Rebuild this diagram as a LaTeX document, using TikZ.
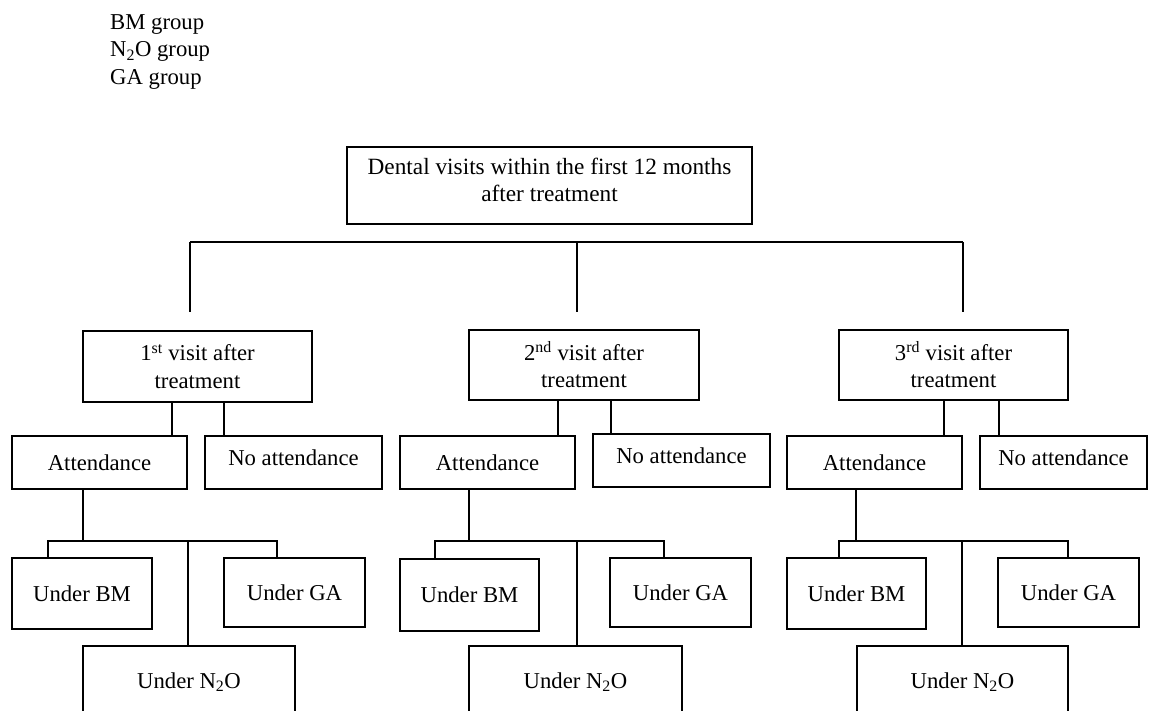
\documentclass[tikz,border=0pt]{standalone}
\usepackage{fontspec}
\setmainfont{Liberation Serif}
\begin{document}
\begin{tikzpicture}[x=1pt,y=-1pt,
  every node/.style={font=\fontsize{22.7}{27.5}\selectfont},
  box/.style={draw,line width=1.4pt,inner sep=0pt,align=center},
  onebox/.style={box,text height=15pt,text depth=0pt},
  upbox/.style={box,text height=15pt,text depth=10pt},
  conn/.style={line width=1.4pt},
  legend/.style={anchor=base west,inner sep=0pt}]
\useasboundingbox (0,0) rectangle (1149,711);
\clip (0,0) rectangle (1149,711);
% legend
\node[legend] (lbm) at (110,29.5) {BM group};
\node[legend] (ln2o) at (110,57) {N\textsubscript{2}O group};
\node[legend] (lga) at (110,84.5) {GA group};
% top
\node[box,minimum width=405pt,minimum height=77pt] (top) at (549.5,185.5) {};
\node[inner sep=0pt,align=center,font=\fontsize{23.3}{27.5}\selectfont] (toptext) at (549.5,180) {Dental visits within the first 12 months\\after treatment};
% visits
\node[box,minimum width=229pt,minimum height=71pt] (v1) at (197.5,366.5) {1\textsuperscript{st} visit after\\treatment};
\node[box,minimum width=230pt,minimum height=70pt] (v2) at (584,365) {2\textsuperscript{nd} visit after\\treatment};
\node[box,minimum width=229pt,minimum height=70pt] (v3) at (953.5,365) {3\textsuperscript{rd} visit after\\treatment};
% attendance
\node[onebox,minimum width=175pt,minimum height=53pt] (a1) at (99.5,462.5) {Attendance};
\node[upbox,minimum width=177pt,minimum height=53pt] (n1) at (293.5,462.5) {No attendance};
\node[onebox,minimum width=175pt,minimum height=53pt] (a2) at (487.5,462.5) {Attendance};
\node[upbox,minimum width=177pt,minimum height=53pt] (n2) at (681.5,460.5) {No attendance};
\node[onebox,minimum width=175pt,minimum height=53pt] (a3) at (874.5,462.5) {Attendance};
\node[upbox,minimum width=167pt,minimum height=53pt] (n3) at (1063.5,462.5) {No attendance};
% under
\node[onebox,minimum width=140pt,minimum height=71pt] (bm1) at (82,593.5) {Under BM};
\node[onebox,minimum width=141pt,minimum height=69pt] (ga1) at (294.5,592.5) {Under GA};
\node[onebox,minimum width=212pt,minimum height=70pt] (no1) at (189,681) {Under N\textsubscript{2}O};
\node[onebox,minimum width=139pt,minimum height=72pt] (bm2) at (469.5,595) {Under BM};
\node[onebox,minimum width=141pt,minimum height=69pt] (ga2) at (680.5,592.5) {Under GA};
\node[onebox,minimum width=213pt,minimum height=70pt] (no2) at (575.5,681) {Under N\textsubscript{2}O};
\node[onebox,minimum width=139pt,minimum height=71pt] (bm3) at (856.5,593.5) {Under BM};
\node[onebox,minimum width=141pt,minimum height=69pt] (ga3) at (1068.5,592.5) {Under GA};
\node[onebox,minimum width=211pt,minimum height=70pt] (no3) at (962.5,681) {Under N\textsubscript{2}O};
% top bar
\coordinate (tl) at (190,242);
\coordinate (tm) at (577,242);
\coordinate (tr) at (963,242);
\draw[conn] (tl) -- (tr);
\draw[conn] (tl) -- (tl |- 0,312);
\draw[conn] (tm) -- (tm |- 0,312);
\draw[conn] (tr) -- (tr |- 0,312);
% visit -> attendance
\draw[conn] (v1.south -| 172,0) -- (a1.north -| 172,0);
\draw[conn] (v1.south -| 224,0) -- (n1.north -| 224,0);
\draw[conn] (v2.south -| 558,0) -- (a2.north -| 558,0);
\draw[conn] (v2.south -| 611,0) -- (n2.north -| 611,0);
\draw[conn] (v3.south -| 944,0) -- (a3.north -| 944,0);
\draw[conn] (v3.south -| 999,0) -- (n3.north -| 999,0);
% attendance -> under
\draw[conn] (a1.south -| 83,0) -- (83,541);
\draw[conn] (bm1.north -| 48,0) -- (48,541) -- (277,541) -- (ga1.north -| 277,0);
\draw[conn] (188,541) -- (no1.north -| 188,0);
\draw[conn] (a2.south -| 469,0) -- (469,541);
\draw[conn] (bm2.north -| 435,0) -- (435,541) -- (664,541) -- (ga2.north -| 664,0);
\draw[conn] (577,541) -- (no2.north -| 577,0);
\draw[conn] (a3.south -| 856,0) -- (856,541);
\draw[conn] (bm3.north -| 839,0) -- (839,541) -- (1068,541) -- (ga3.north -| 1068,0);
\draw[conn] (962,541) -- (no3.north -| 962,0);
\end{tikzpicture}
\end{document}
